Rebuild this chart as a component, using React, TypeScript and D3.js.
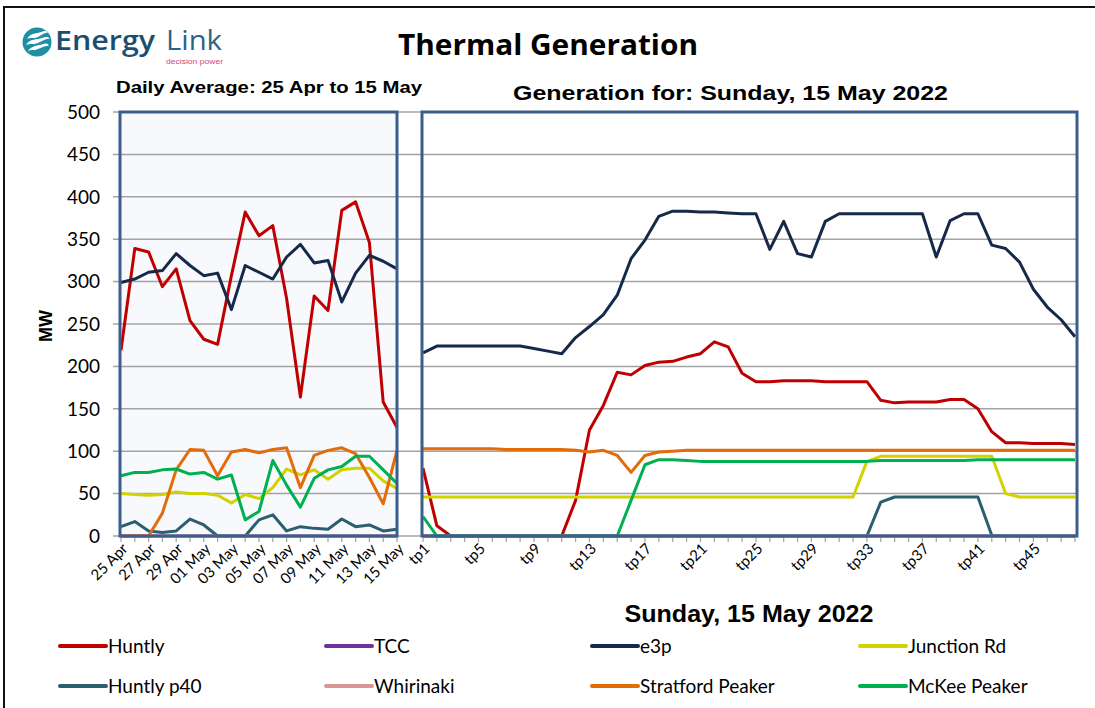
import React from "react";
import * as d3 from "d3";

// ---------- data ----------
const days = ["25 Apr","26 Apr","27 Apr","28 Apr","29 Apr","30 Apr","01 May","02 May","03 May","04 May","05 May","06 May","07 May","08 May","09 May","10 May","11 May","12 May","13 May","14 May","15 May"];
const tps = Array.from({ length: 48 }, (_, i) => `tp${i + 1}`);
const yTicks = [0, 50, 100, 150, 200, 250, 300, 350, 400, 450, 500];

const seriesNames = ["Huntly", "TCC", "e3p", "Junction Rd", "Huntly p40", "Whirinaki", "Stratford Peaker", "McKee Peaker"];
const seriesColors = ["#c00000", "#7030a0", "#17294a", "#d2d200", "#2c5f6e", "#d99694", "#e36c0a", "#00b050"];

// Daily averages (25 Apr – 15 May)
const huntlyDaily = [219, 339, 335, 294, 315, 254, 232, 226, 307, 382, 354, 366, 280, 164, 283, 266, 384, 394, 346, 158, 128];
const tccDaily = [0, 0, 0, 0, 0, 0, 0, 0, 0, 0, 0, 0, 0, 0, 0, 0, 0, 0, 0, 0, 0];
const e3pDaily = [299, 303, 311, 313, 333, 319, 307, 310, 267, 319, 311, 303, 329, 344, 322, 325, 276, 310, 331, 324, 315];
const junctionDaily = [50, 49, 48, 49, 52, 50, 50, 48, 39, 49, 44, 57, 79, 72, 78, 67, 78, 80, 80, 65, 56];
const p40Daily = [11, 17, 6, 4, 6, 20, 13, 0, 0, 0, 19, 25, 6, 11, 9, 8, 20, 11, 13, 6, 8];
const whirinakiDaily = [0, 0, 0, 0, 0, 0, 0, 0, 0, 0, 0, 0, 0, 0, 0, 0, 0, 0, 0, 0, 0];
const stratfordDaily = [0, 0, 0, 27, 78, 102, 101, 71, 99, 102, 98, 102, 104, 57, 95, 101, 104, 97, 69, 38, 101];
const mckeeDaily = [71, 75, 75, 78, 79, 73, 75, 67, 72, 19, 29, 89, 60, 34, 68, 78, 82, 94, 94, 78, 62];

// Trading periods, Sunday 15 May 2022
const huntlyTp = [80, 12, 0, 0, 0, 0, 0, 0, 0, 0, 0, 42, 125, 154, 193, 190, 201, 205, 206, 211, 215, 229, 223, 192, 182, 182, 183, 183, 183, 182, 182, 182, 182, 160, 157, 158, 158, 158, 161, 161, 150, 123, 110, 110, 109, 109, 109, 108];
const tccTp = [0, 0, 0, 0, 0, 0, 0, 0, 0, 0, 0, 0, 0, 0, 0, 0, 0, 0, 0, 0, 0, 0, 0, 0, 0, 0, 0, 0, 0, 0, 0, 0, 0, 0, 0, 0, 0, 0, 0, 0, 0, 0, 0, 0, 0, 0, 0, 0];
const e3pTp = [216, 224, 224, 224, 224, 224, 224, 224, 221, 218, 215, 234, 247, 261, 284, 327, 349, 377, 383, 383, 382, 382, 381, 380, 380, 338, 371, 333, 329, 371, 380, 380, 380, 380, 380, 380, 380, 329, 372, 380, 380, 343, 339, 323, 291, 270, 255, 235];
const junctionTp = [46, 46, 46, 46, 46, 46, 46, 46, 46, 46, 46, 46, 46, 46, 46, 46, 46, 46, 46, 46, 46, 46, 46, 46, 46, 46, 46, 46, 46, 46, 46, 46, 88, 94, 94, 94, 94, 94, 94, 94, 94, 94, 50, 46, 46, 46, 46, 46];
const p40Tp = [0, 0, 0, 0, 0, 0, 0, 0, 0, 0, 0, 0, 0, 0, 0, 0, 0, 0, 0, 0, 0, 0, 0, 0, 0, 0, 0, 0, 0, 0, 0, 0, 0, 40, 46, 46, 46, 46, 46, 46, 46, 1, 0, 0, 0, 0, 0, 0];
const whirinakiTp = [0, 0, 0, 0, 0, 0, 0, 0, 0, 0, 0, 0, 0, 0, 0, 0, 0, 0, 0, 0, 0, 0, 0, 0, 0, 0, 0, 0, 0, 0, 0, 0, 0, 0, 0, 0, 0, 0, 0, 0, 0, 0, 0, 0, 0, 0, 0, 0];
const stratfordTp = [103, 103, 103, 103, 103, 103, 102, 102, 102, 102, 102, 101, 99, 101, 95, 75, 95, 99, 100, 101, 101, 101, 101, 101, 101, 101, 101, 101, 101, 101, 101, 101, 101, 101, 101, 101, 101, 101, 101, 101, 101, 101, 101, 101, 101, 101, 101, 101];
const mckeeTp = [23, 0, 0, 0, 0, 0, 0, 0, 0, 0, 0, 0, 0, 0, 0, 42, 84, 90, 90, 89, 88, 88, 88, 88, 88, 88, 88, 88, 88, 88, 88, 88, 88, 89, 89, 89, 89, 89, 89, 89, 90, 90, 90, 90, 90, 90, 90, 90];

const dailySeries = [huntlyDaily, tccDaily, e3pDaily, junctionDaily, p40Daily, whirinakiDaily, stratfordDaily, mckeeDaily];
const tpSeries = [huntlyTp, tccTp, e3pTp, junctionTp, p40Tp, whirinakiTp, stratfordTp, mckeeTp];

// ---------- layout ----------
const W = 1095;
const H = 708;
const plotTop = 112;
const plotBottom = 536;
const leftRange: [number, number] = [121, 397];
const rightRange: [number, number] = [423, 1075];

const ARIAL = "'Liberation Sans', Arial, sans-serif";
const NARROW = "'Liberation Sans Narrow', 'Liberation Sans', Arial, sans-serif";
const CAL = "Lato, 'Open Sans', sans-serif";
const FRAME = "#3b5e8c";
const GRID = "#a3a3a3";

export default function App() {
  const y = d3.scaleLinear().domain([0, 500]).range([plotBottom, plotTop]);
  const xL = d3.scalePoint<string>().domain(days).range(leftRange);
  const xR = d3.scalePoint<string>().domain(tps).range(rightRange);

  const lineL = d3.line<number>().x((_, i) => xL(days[i]) as number).y((d) => y(d));
  const lineR = d3.line<number>().x((_, i) => xR(tps[i]) as number).y((d) => y(d));

  const legendCols = [60, 326, 592, 860];
  const legendRows = [646, 686];

  return (
    <svg width={W} height={H} style={{ position: "absolute", left: 0, top: 0, background: "#fff" }}>
      <rect x={0} y={0} width={W} height={H} fill="#fff" />
      {/* outer border */}
      <rect x={4} y={7} width={W + 20} height={H + 20} fill="none" stroke="#111" strokeWidth={2} />

      {/* logo */}
      <g>
        <circle cx={37} cy={42} r={14.5} fill="#1f8fa3" />
        <path d="M27,39 C31,32 37,34 41,32 C44,31 46,30 48,33 C45,32 42,35 38,37 C34,39 30,37 27,39 Z" fill="#fff" />
        <path d="M26,45 C30,38 37,40 42,38 C45,37 48,36 50,39 C46,38 43,41 38,43 C33,45 30,43 26,45 Z" fill="#fff" />
        <path d="M28,51 C32,45 38,46 43,44 C46,43 48,43 49,46 C45,45 42,48 38,49 C34,51 31,49 28,51 Z" fill="#fff" />
        <text x={55} y={50} fontFamily={"'Open Sans', sans-serif"} fontWeight={600} fontSize={27} fill="#1b4d70" textLength={100} lengthAdjust="spacingAndGlyphs">Energy</text>
        <text x={166} y={50} fontFamily={"'Open Sans', sans-serif"} fontWeight={400} fontSize={27} fill="#2c6489" textLength={56} lengthAdjust="spacingAndGlyphs">Link</text>
        <text x={166} y={64} fontFamily={ARIAL} fontSize={8} fill="#d8457a" textLength={57} lengthAdjust="spacingAndGlyphs">decision power</text>
      </g>

      {/* titles */}
      <text x={398} y={55} fontFamily={"'Open Sans', sans-serif"} fontWeight={700} fontSize={28} fill="#000" textLength={300} lengthAdjust="spacingAndGlyphs">Thermal Generation</text>
      <text x={116} y={93} fontFamily={ARIAL} fontWeight={700} fontSize={16} fill="#000" textLength={306} lengthAdjust="spacingAndGlyphs">Daily Average: 25 Apr to 15 May</text>
      <text x={513} y={100} fontFamily={ARIAL} fontWeight={700} fontSize={20} fill="#000" textLength={435} lengthAdjust="spacingAndGlyphs">Generation for: Sunday, 15 May 2022</text>

      {/* left panel background */}
      <rect x={120} y={plotTop} width={277} height={plotBottom - plotTop} fill="#f7f9fc" />

      {/* gridlines */}
      {yTicks.filter((t) => t > 0).map((t) => (
        <line key={t} x1={113} x2={1077} y1={y(t)} y2={y(t)} stroke={GRID} strokeWidth={1.5} />
      ))}
      <line x1={113} x2={1077} y1={plotBottom} y2={plotBottom} stroke={GRID} strokeWidth={1.5} />

      {/* y tick labels */}
      {yTicks.map((t) => (
        <text key={t} x={100} y={y(t)} dy="0.36em" textAnchor="end" fontFamily={CAL} fontSize={19} fill="#000">{t}</text>
      ))}
      <text transform={`translate(52,326) rotate(-90)`} textAnchor="middle" fontFamily={ARIAL} fontWeight={700} fontSize={18} fill="#000">MW</text>

      {/* x ticks */}
      {days.map((d) => (
        <line key={d} x1={xL(d)} x2={xL(d)} y1={plotBottom} y2={plotBottom + 6} stroke={GRID} strokeWidth={1.2} />
      ))}
      {tps.map((d) => (
        <line key={d} x1={xR(d)} x2={xR(d)} y1={plotBottom} y2={plotBottom + 6} stroke={GRID} strokeWidth={1.2} />
      ))}
      {days.filter((_, i) => i % 2 === 0).map((d) => (
        <text key={d} transform={`translate(${(xL(d) as number) + 4},${plotBottom + 10}) rotate(-45)`} textAnchor="end" dy="0.35em" fontFamily={CAL} fontSize={15} fill="#000">{d}</text>
      ))}
      {tps.filter((_, i) => i % 4 === 0).map((d) => (
        <text key={d} transform={`translate(${(xR(d) as number) + 4},${plotBottom + 10}) rotate(-45)`} textAnchor="end" dy="0.35em" fontFamily={CAL} fontSize={15} fill="#000">{d}</text>
      ))}

      {/* lines */}
      {dailySeries.map((s, k) => (
        <path key={"d" + k} d={lineL(s) as string} fill="none" stroke={seriesColors[k]} strokeWidth={3} strokeLinejoin="round" />
      ))}
      {tpSeries.map((s, k) => (
        <path key={"t" + k} d={lineR(s) as string} fill="none" stroke={seriesColors[k]} strokeWidth={3} strokeLinejoin="round" />
      ))}

      {/* panel frames */}
      <rect x={120} y={plotTop} width={277} height={plotBottom - plotTop} fill="none" stroke={FRAME} strokeWidth={3} />
      <rect x={422} y={plotTop} width={655} height={plotBottom - plotTop} fill="none" stroke={FRAME} strokeWidth={3} />

      {/* x axis title */}
      <text x={749} y={622} textAnchor="middle" fontFamily={NARROW} fontWeight={700} fontSize={24} fill="#000" textLength={249} lengthAdjust="spacingAndGlyphs">Sunday, 15 May 2022</text>

      {/* legend */}
      {seriesNames.map((n, k) => {
        const cx = legendCols[k % 4];
        const cy = legendRows[Math.floor(k / 4)];
        return (
          <g key={n}>
            <line x1={cx} x2={cx + 46} y1={cy} y2={cy} stroke={seriesColors[k]} strokeWidth={4} strokeLinecap="round" />
            <text x={cx + 48} y={cy} dy="0.36em" fontFamily={CAL} fontSize={19} fill="#000">{n}</text>
          </g>
        );
      })}
    </svg>
  );
}
